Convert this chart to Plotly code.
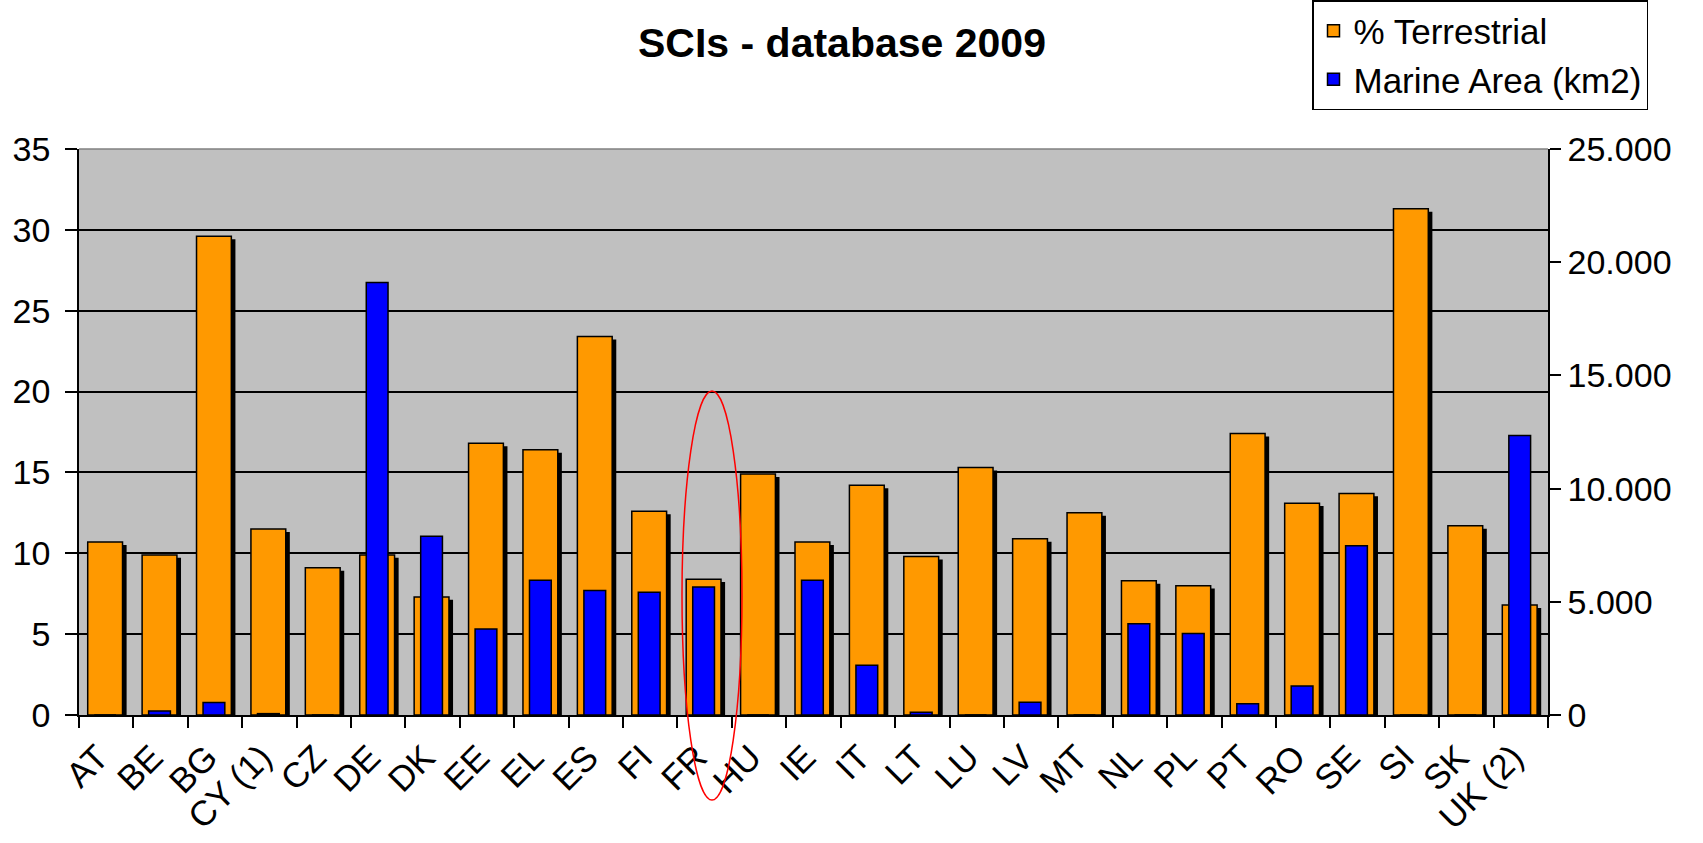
import plotly.graph_objects as go

categories = ["AT", "BE", "BG", "CY (1)", "CZ", "DE", "DK", "EE", "EL", "ES", "FI", "FR", "HU",
              "IE", "IT", "LT", "LU", "LV", "MT", "NL", "PL", "PT", "RO", "SE", "SI", "SK", "UK (2)"]
terrestrial_pct = [10.7, 9.9, 29.6, 11.5, 9.1, 9.9, 7.3, 16.8, 16.4, 23.4, 12.6, 8.4, 14.9,
                   10.7, 14.2, 9.8, 15.3, 10.9, 12.5, 8.3, 8.0, 17.4, 13.1, 13.7, 31.3, 11.7, 6.8]
marine_km2 = [0, 180, 550, 60, 0, 19100, 7900, 3800, 5950, 5500, 5420, 5650, 0,
              5950, 2200, 120, 0, 560, 0, 4030, 3600, 500, 1280, 7480, 0, 0, 12350]
left_ticks = [0, 5, 10, 15, 20, 25, 30, 35]
right_ticks = [0, 5000, 10000, 15000, 20000, 25000]

W, H = 1703, 843
L, R, T, B = 79, 1548, 149, 715
FONT = "Liberation Sans, Arial, sans-serif"

ORANGE_W = 0.64
ORANGE_OFF = -0.34
SHADOW_DX = 0.075
SHADOW_DY = 0.18
BLUE_W = 0.40
BLUE_OFF = -0.22

fig = go.Figure()

# drop shadow of the terrestrial bars
fig.add_trace(go.Bar(
    x=categories, y=[v - SHADOW_DY for v in terrestrial_pct],
    width=ORANGE_W, offset=ORANGE_OFF + SHADOW_DX,
    marker=dict(color="black", line=dict(width=0)),
    showlegend=False, hoverinfo="skip", yaxis="y",
))
fig.add_trace(go.Bar(
    x=categories, y=terrestrial_pct, name="% Terrestrial",
    width=ORANGE_W, offset=ORANGE_OFF,
    marker=dict(color="#FF9900", line=dict(color="black", width=1.5)),
    yaxis="y",
))
fig.add_trace(go.Bar(
    x=categories, y=marine_km2, name="Marine Area (km2)",
    width=BLUE_W, offset=BLUE_OFF,
    marker=dict(color="#0000FF", line=dict(color="black", width=1.5)),
    yaxis="y2",
))

# red ellipse highlighting FR
fig.add_shape(type="circle", xref="paper", yref="paper",
              x0=(682 - L) / (R - L), x1=(742 - L) / (R - L),
              y0=(B - 800) / (B - T), y1=(B - 391) / (B - T),
              line=dict(color="red", width=1.5), fillcolor="rgba(0,0,0,0)")

# gray top border of plot area
fig.add_shape(type="line", xref="paper", yref="paper", x0=0, x1=1, y0=1, y1=1,
              line=dict(color="#808080", width=1.5))

fig.update_layout(
    width=W, height=H,
    margin=dict(l=L, r=W - R, t=T, b=H - B, pad=0, autoexpand=False),
    paper_bgcolor="white", plot_bgcolor="#C0C0C0",
    barmode="overlay",
    separators=",.",
    font=dict(family=FONT, size=34, color="black"),
    title=dict(text="<b>SCIs - database 2009</b>", x=842 / W, xanchor="center",
               y=1 - 43 / H, yanchor="middle", xref="container", yref="container",
               font=dict(family=FONT, size=41, color="black")),
    legend=dict(x=1312 / W, y=1.0, xanchor="left", yanchor="top",
                xref="container", yref="container",
                bgcolor="white", bordercolor="black", borderwidth=1.5,
                font=dict(family=FONT, size=35, color="black"),
                tracegroupgap=4),
    xaxis=dict(type="category", showline=True, linecolor="black", linewidth=1.5,
               ticks="outside", ticklen=11, tickcolor="black", tickwidth=1.5,
               tickson="boundaries", tickangle=-45, showgrid=False,
               ticklabelstandoff=6, ticklabelshift=-8,
               tickfont=dict(family=FONT, size=35, color="black"),
               range=[-0.5, len(categories) - 0.5], automargin=False),
    yaxis=dict(range=[0, 35], tickvals=left_ticks, showline=True, linecolor="black",
               linewidth=1.5, ticks="outside", ticklen=12, tickcolor="black", tickwidth=1.5,
               showgrid=True, gridcolor="black", gridwidth=1.5, zeroline=False,
               ticklabelstandoff=8, automargin=False,
               tickfont=dict(family=FONT, size=34, color="black")),
    yaxis2=dict(range=[0, 25000], tickvals=right_ticks, tickformat=",d",
                overlaying="y", side="right", showline=True, linecolor="black",
                linewidth=1.5, ticks="outside", ticklen=11, tickcolor="black", tickwidth=1.5,
                showgrid=False, zeroline=False, automargin=False,
                tickfont=dict(family=FONT, size=34, color="black")),
)

fig.write_html("out.html", config={"displayModeBar": False},
               post_script="document.body.style.margin='0';document.body.style.overflow='hidden';")
